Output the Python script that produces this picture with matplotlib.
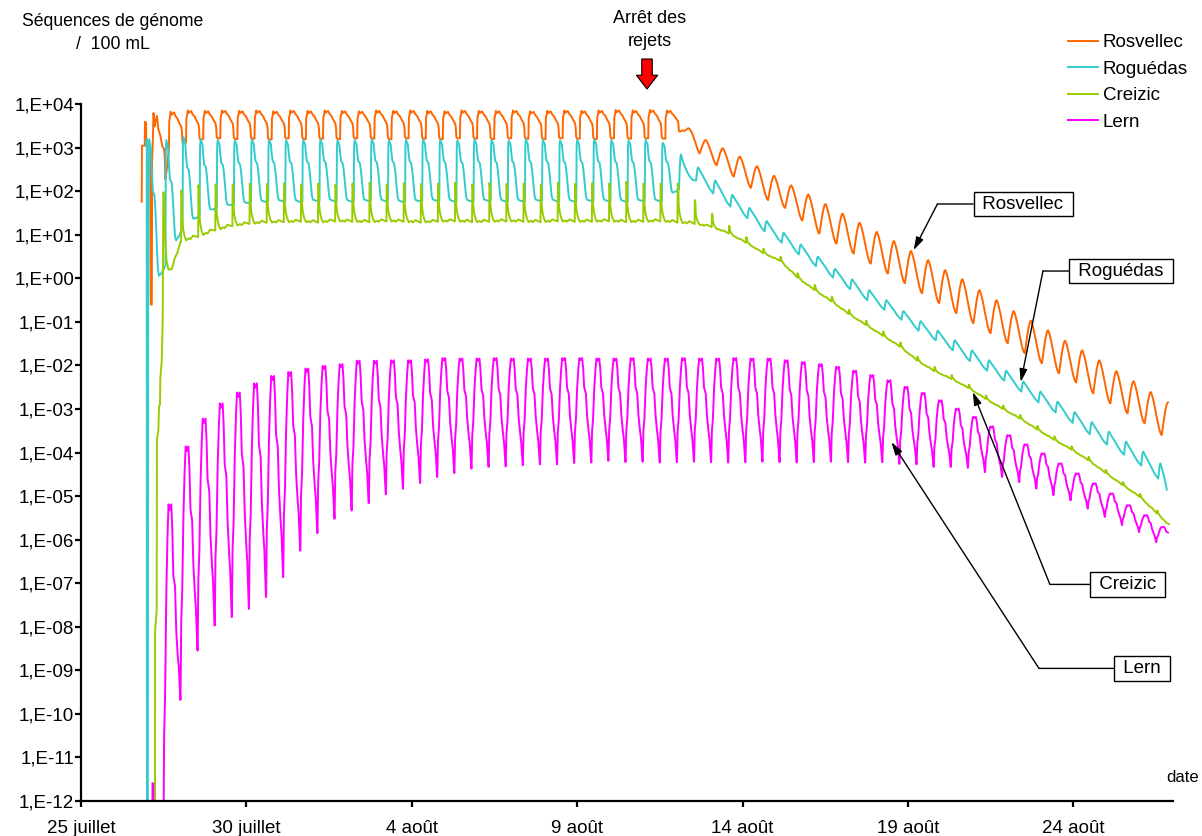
import numpy as np
import matplotlib
matplotlib.use("Agg")
import matplotlib.pyplot as plt
from matplotlib.ticker import NullLocator

plt.rcParams["font.family"] = ["Liberation Sans", "DejaVu Sans"]
plt.rcParams["font.size"] = 13

# ---- data (log10 of genome sequences / 100 mL) ----
# one value per tidal cycle (12 h 25) : high level and low level of the cycle
PERIODE = 12.42 / 24.0          # days
FIN = 32.89                     # last sample, days after 25 juillet

series = ["Rosvellec", "Roguédas", "Creizic", "Lern"]
couleurs = ["#FF6600", "#33CCCC", "#99CC00", "#FF00FF"]

rosvellec_hauts = [3.80, 3.83, 3.86, 3.85, 3.86, 3.85, 3.86, 3.84, 3.86, 3.85,
                   3.86, 3.85, 3.84, 3.86, 3.85, 3.86, 3.85, 3.84, 3.86, 3.85,
                   3.85, 3.86, 3.84, 3.85, 3.86, 3.85, 3.86, 3.87, 3.86, 3.87,
                   3.86, 3.45, 3.18, 2.99, 2.80, 2.58, 2.36, 2.14, 1.93, 1.71,
                   1.49, 1.28, 1.07, 0.86, 0.63, 0.42, 0.19, -0.02, -0.27, -0.50,
                   -0.75, -0.97, -1.19, -1.43, -1.65, -1.88, -2.13, -2.36, -2.61, -2.85]
rosvellec_bas = [2.95, 3.12, 3.20, 3.22, 3.20, 3.21, 3.19, 3.22, 3.20, 3.21,
                 3.20, 3.22, 3.21, 3.20, 3.22, 3.21, 3.20, 3.22, 3.21, 3.20,
                 3.22, 3.21, 3.20, 3.22, 3.21, 3.20, 3.22, 3.21, 3.22, 3.21,
                 3.40, 2.87, 2.60, 2.34, 2.08, 1.80, 1.62, 1.33, 1.03, 0.80,
                 0.57, 0.34, 0.11, -0.11, -0.34, -0.57, -0.80, -1.03, -1.26, -1.49,
                 -1.72, -1.95, -2.18, -2.39, -2.64, -2.87, -3.10, -3.33, -3.60, -3.70]
rosvellec_amorce_j = [1.835, 1.841, 1.926, 1.935, 1.965, 1.977, 2.092, 2.110, 2.134]
rosvellec_amorce_log = [1.76, 3.05, 3.05, 3.60, 3.58, 3.05, 2.95, -0.60, -0.60]

roguedas_hauts = [3.20, 3.18, 3.25, 3.20, 3.18, 3.17, 3.19, 3.18, 3.17, 3.18,
                  3.19, 3.17, 3.18, 3.19, 3.17, 3.18, 3.19, 3.18, 3.17, 3.19,
                  3.18, 3.17, 3.19, 3.18, 3.17, 3.18, 3.19, 3.18, 3.17, 3.18,
                  3.12, 2.85, 2.55, 2.25, 1.92, 1.62, 1.32, 1.05, 0.78, 0.50,
                  0.22, -0.02, -0.27, -0.50, -0.75, -0.98, -1.20, -1.42, -1.65, -1.88,
                  -2.12, -2.37, -2.60, -2.83, -3.07, -3.30, -3.52, -3.75, -3.98, -4.25]
roguedas_bas = [0.30, 1.15, 1.45, 1.62, 1.70, 1.74, 1.77, 1.78, 1.76, 1.79,
                1.78, 1.77, 1.79, 1.78, 1.76, 1.78, 1.79, 1.77, 1.78, 1.79,
                1.77, 1.78, 1.79, 1.78, 1.77, 1.79, 1.78, 1.77, 1.79, 1.78,
                2.05, 2.25, 1.95, 1.65, 1.38, 1.08, 0.82, 0.55, 0.28, 0.02,
                -0.25, -0.50, -0.72, -0.95, -1.20, -1.42, -1.65, -1.90, -2.12, -2.35,
                -2.60, -2.85, -3.08, -3.32, -3.58, -3.82, -4.05, -4.30, -4.60, -5.90]
roguedas_amorce_j = [1.974, 1.986, 1.992, 2.004, 2.019, 2.025, 2.031]
roguedas_amorce_log = [3.05, 3.20, -10.7, -13.0, -13.0, -5.0, -0.5]

creizic_hauts = [2.02, 2.14, 2.16, 2.16, 2.18, 2.17, 2.19, 2.16, 2.18, 2.15,
                 2.18, 2.20, 2.16, 2.19, 2.17, 2.18, 2.20, 2.16, 2.19, 2.17,
                 2.18, 2.16, 2.20, 2.17, 2.19, 2.18, 2.22, 2.18, 2.18, 2.18,
                 1.80, 1.49, 1.21, 0.95, 0.68, 0.50, 0.12, -0.15, -0.42, -0.72,
                 -0.97, -1.22, -1.47, -1.80, -2.03, -2.22, -2.44, -2.69, -2.92, -3.14,
                 -3.39, -3.63, -3.86, -4.10, -4.40, -4.68, -4.95, -5.33]
creizic_bas = [0.95, 1.10, 1.20, 1.25, 1.28, 1.29, 1.30, 1.28, 1.31, 1.30,
               1.29, 1.31, 1.30, 1.28, 1.30, 1.31, 1.29, 1.30, 1.31, 1.30,
               1.29, 1.31, 1.30, 1.30, 1.31, 1.29, 1.30, 1.31, 1.28, 1.25,
               1.18, 1.03, 0.82, 0.58, 0.40, 0.02, -0.27, -0.53, -0.82, -1.07,
               -1.32, -1.57, -1.89, -2.13, -2.31, -2.52, -2.77, -3.00, -3.22, -3.47,
               -3.71, -3.93, -4.18, -4.47, -4.75, -5.02, -5.40, -5.78]
creizic_amorce_j = [2.237, 2.240, 2.288, 2.294, 2.337, 2.358, 2.388, 2.397, 2.440, 2.470,
                    2.488, 2.518, 2.539, 2.585, 2.646, 2.751, 2.827, 2.917, 3.008]
creizic_amorce_log = [-13.0, -8.1, -7.6, -3.7, -3.5, -2.95, -2.9, -2.3, -1.9, -0.9,
                      1.98, 1.90, 1.00, 0.40, 0.20, 0.22, 0.45, 0.60, 0.84]

lern_hauts = [-5.19, -3.86, -3.22, -2.87, -2.62, -2.41, -2.24, -2.15, -2.07, -2.01,
              -1.97, -1.89, -1.89, -1.88, -1.88, -1.86, -1.83, -1.84, -1.84, -1.83,
              -1.84, -1.84, -1.84, -1.83, -1.83, -1.84, -1.84, -1.83, -1.84, -1.84,
              -1.83, -1.84, -1.84, -1.83, -1.84, -1.84, -1.88, -1.92, -1.97, -2.03,
              -2.12, -2.22, -2.34, -2.49, -2.63, -2.80, -2.99, -3.18, -3.40, -3.60,
              -3.81, -4.02, -4.25, -4.48, -4.71, -4.94, -5.21, -5.44, -5.71]
lern_bas = [-9.65, -8.54, -7.97, -7.78, -7.59, -7.32, -6.86, -6.25, -5.85, -5.52,
            -5.33, -5.16, -4.96, -4.83, -4.70, -4.56, -4.47, -4.37, -4.33, -4.32,
            -4.29, -4.27, -4.27, -4.24, -4.23, -4.19, -4.22, -4.21, -4.23, -4.22,
            -4.21, -4.22, -4.23, -4.22, -4.21, -4.22, -4.23, -4.22, -4.21, -4.22,
            -4.23, -4.22, -4.26, -4.27, -4.33, -4.33, -4.35, -4.45, -4.56, -4.68,
            -4.83, -4.98, -5.10, -5.29, -5.48, -5.67, -5.83, -6.06, -6.10]
lern_amorce_j = [2.155, 2.161, 2.183, 2.189, 2.485]
lern_amorce_log = [-13.0, -11.6, -11.6, -13.0, -13.0]

y_ticks_labels = ["1,E-12", "1,E-11", "1,E-10", "1,E-09", "1,E-08", "1,E-07", "1,E-06",
                  "1,E-05", "1,E-04", "1,E-03", "1,E-02", "1,E-01", "1,E+00",
                  "1,E+01", "1,E+02", "1,E+03", "1,E+04"]
x_ticks_jours = [0, 5, 10, 15, 20, 25, 30]
x_ticks_labels = ["25 juillet", "30 juillet", "4 août", "9 août", "14 août", "19 août", "24 août"]

# ---- waveform of one tidal cycle (phase, fraction between low and high) ----
forme_rosvellec = [(0.0, 0.0), (0.02, 0.75), (0.06, 0.85), (0.10, 1.0), (0.16, 0.92),
                   (0.22, 0.95), (0.30, 0.98), (0.38, 0.88), (0.50, 0.80), (0.62, 0.65),
                   (0.72, 0.55), (0.76, 0.40), (0.79, 0.05), (0.85, 0.0), (0.99, 0.0)]
forme_rosvellec_apres = [(0.0, 0.0), (0.10, 0.40), (0.20, 0.75), (0.30, 0.97), (0.36, 1.0),
                         (0.44, 0.90), (0.54, 0.72), (0.64, 0.50), (0.74, 0.30), (0.84, 0.12),
                         (0.93, 0.02), (0.99, 0.0)]
forme_roguedas = [(0.0, 0.0), (0.02, 0.9), (0.05, 1.0), (0.10, 0.97), (0.16, 0.93),
                  (0.20, 0.80), (0.26, 0.66), (0.36, 0.62), (0.42, 0.50), (0.50, 0.25),
                  (0.56, 0.08), (0.62, 0.02), (0.80, 0.0), (0.99, 0.0)]
forme_roguedas_apres = [(0.0, 0.0), (0.04, 0.55), (0.08, 0.90), (0.12, 1.0), (0.22, 0.80),
                        (0.35, 0.60), (0.50, 0.40), (0.65, 0.22), (0.80, 0.08), (0.99, 0.0)]
forme_creizic = [(0.0, 0.0), (0.015, 1.0), (0.05, 0.9), (0.07, 0.45), (0.12, 0.25),
                 (0.20, 0.10), (0.30, 0.0), (0.45, 0.03), (0.55, 0.0), (0.70, 0.06),
                 (0.85, 0.03), (0.99, 0.0)]
forme_lern = [(0.0, 0.0), (0.04, 0.30), (0.10, 0.42), (0.17, 0.72), (0.24, 0.90),
              (0.30, 1.0), (0.36, 0.98), (0.46, 1.0), (0.52, 0.90), (0.58, 0.72),
              (0.68, 0.66), (0.75, 0.45), (0.84, 0.30), (0.90, 0.22), (0.95, 0.10),
              (0.99, 0.0)]

# first cycle start (days after 25 juillet), and cycle from which the shape changes
debuts = [2.140, 2.035, 3.024, 2.491]
cycle_arret = [31, 31, 999, 999]


def trace(debut, hauts, bas, forme, forme_apres, k_arret, amorce_j, amorce_log):
    jours = list(amorce_j)
    logs = list(amorce_log)
    prec = amorce_log[-1]
    for k, (h, b) in enumerate(zip(hauts, bas)):
        t0 = debut + k * PERIODE
        f_cycle = forme_apres if k >= k_arret else forme
        for p, f in f_cycle:
            base = prec + (b - prec) * p
            jours.append(t0 + p * PERIODE)
            logs.append(base + f * (h - base))
        prec = b
    jours = np.array(jours)
    vals = 10.0 ** np.array(logs)
    garde = jours <= FIN
    return jours[garde], vals[garde]


donnees = [
    (rosvellec_hauts, rosvellec_bas, forme_rosvellec, forme_rosvellec_apres,
     rosvellec_amorce_j, rosvellec_amorce_log),
    (roguedas_hauts, roguedas_bas, forme_roguedas, forme_roguedas_apres,
     roguedas_amorce_j, roguedas_amorce_log),
    (creizic_hauts, creizic_bas, forme_creizic, forme_creizic,
     creizic_amorce_j, creizic_amorce_log),
    (lern_hauts, lern_bas, forme_lern, forme_lern, lern_amorce_j, lern_amorce_log),
]

fig = plt.figure(figsize=(12.02, 8.36), dpi=100)
ax = fig.add_axes([0.0674, 0.0422, 0.9087, 0.833])

lignes = []
for nom, coul, debut, k_arret, (h, b, fa, fb, aj, al) in zip(series, couleurs, debuts,
                                                             cycle_arret, donnees):
    j, v = trace(debut, h, b, fa, fb, k_arret, aj, al)
    ln, = ax.plot(j, v, color=coul, lw=1.4, label=nom)
    lignes.append(ln)

ax.set_yscale("log")
ax.set_ylim(1e-12, 1e4)
ax.set_xlim(0, 33.02)
ax.set_yticks([10.0 ** e for e in range(-12, 5)])
ax.set_yticklabels(y_ticks_labels)
ax.yaxis.set_minor_locator(NullLocator())
ax.set_xticks(x_ticks_jours)
ax.set_xticklabels(x_ticks_labels)

for s in ["top", "right"]:
    ax.spines[s].set_visible(False)
for s in ["left", "bottom"]:
    ax.spines[s].set_linewidth(1.6)
ax.tick_params(axis="y", direction="out", length=4, width=1.6, pad=1, labelsize=13.5)
ax.tick_params(axis="x", direction="out", length=4, width=1.6, pad=10, labelsize=13.5)

fig.legend(handles=lignes, loc="upper left", bbox_to_anchor=(1068 / 1202, 1 - 34 / 836),
           frameon=False, fontsize=13.5, handlelength=1.6, handletextpad=0.25,
           labelspacing=0.5, borderpad=0, borderaxespad=0)

fig.text(113 / 1202, 1 - 33 / 836, "Séquences de génome\n/  100 mL", ha="center",
         va="center", fontsize=12.7, linespacing=1.4)
fig.text(650 / 1202, 1 - 30 / 836, "Arrêt des\nrejets", ha="center", va="center",
         fontsize=13, linespacing=1.4)
fig.text(1183 / 1202, 1 - 778 / 836, "date", ha="center", va="center", fontsize=12)

ax.annotate("", xy=(647, 836 - 89), xycoords="figure pixels",
            xytext=(647, 836 - 59), textcoords="figure pixels",
            arrowprops=dict(arrowstyle="simple,head_length=0.55,head_width=0.85,tail_width=0.42",
                            fc="#FF0000", ec="black", lw=0.8, shrinkA=0, shrinkB=0,
                            mutation_scale=18))

# labels with elbow arrows: (text position, elbow, tip) in (days, log10)
etiquettes = [
    ("Rosvellec", (28.48, 1.71), 25.89, (25.17, 0.65)),
    ("Roguédas", (31.44, 0.17), 29.08, (28.41, -2.38)),
    ("Creizic", (31.64, -7.03), 29.29, (26.96, -2.61)),
    ("Lern", (32.07, -8.96), 28.96, (24.50, -3.76)),
]
for texte, (tx, ty), coude, (px, py) in etiquettes:
    ax.annotate(" " + texte + " ", xy=(coude, 10.0 ** ty), xytext=(tx, 10.0 ** ty),
                ha="center", va="center", fontsize=13.5,
                bbox=dict(boxstyle="square,pad=0.2", fc="white", ec="black", lw=1.0),
                arrowprops=dict(arrowstyle="-", color="black", lw=1.0, shrinkA=0, shrinkB=0),
                annotation_clip=False)
    ax.annotate("", xy=(px, 10.0 ** py), xytext=(coude, 10.0 ** ty),
                arrowprops=dict(arrowstyle="-|>,head_length=0.6,head_width=0.18",
                                color="black", lw=1.0, shrinkA=0, shrinkB=0),
                annotation_clip=False)

fig.savefig("out.png", dpi=100)
